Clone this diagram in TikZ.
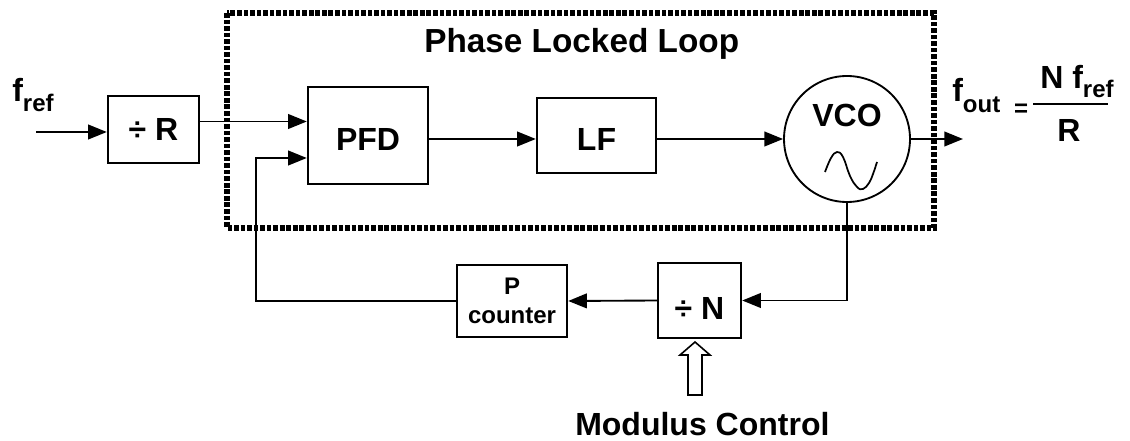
\documentclass[tikz,border=0pt]{standalone}
\usepackage{fontspec}
\setmainfont{Liberation Sans}
\usetikzlibrary{arrows.meta,calc}
\newcommand\bigf{\fontsize{24}{28}\selectfont\bfseries}
\newcommand\midf{\fontsize{18}{21.75}\selectfont\bfseries}
\newcommand\lowtxt[2]{\smash{\raisebox{#1}{#2}}}
\begin{document}
\begin{tikzpicture}[x=0.75pt,y=-0.75pt,
  box/.style={draw,line width=1.8pt,inner sep=0pt,font=\bigf},
  wire/.style={line width=1.4pt},
  arr/.style={wire,-{Triangle[length=14pt,width=11pt]}},
  dotbox/.style={line width=4pt,dash pattern=on 3.5pt off 1.4pt},
  lbl/.style={inner sep=0pt}]
\useasboundingbox (0,0) rectangle (1130,441);
% PLL frame
\draw[dotbox] (227,13) rectangle (934,228);
\node[lbl,anchor=base west,font=\fontsize{25}{30}\selectfont\bfseries] (title) at (424,53) {Phase Locked Loop};
% blocks
\node[box,minimum width=91*0.75pt,minimum height=67*0.75pt] (R) at (153.5,129.5) {\lowtxt{-7.9pt}{÷ R}};
\node[box,minimum width=120*0.75pt,minimum height=97*0.75pt] (PFD) at (368,135.5) {\lowtxt{-10.9pt}{PFD}};
\node[box,minimum width=119*0.75pt,minimum height=75*0.75pt] (LF) at (596.5,135.5) {\lowtxt{-10.9pt}{LF}};
\node[draw,circle,line width=1.4pt,inner sep=0pt,minimum size=126*0.75pt,font=\bigf] (VCO) at (847,139) {\lowtxt{9pt}{VCO}};
\draw[line width=1.3pt] plot[smooth,tension=0.7] coordinates {(825,172) (831,158) (837,152) (843,157) (850,176) (857,187) (863,189) (869,183) (873,174) (877,162)};
\node[box,minimum width=83*0.75pt,minimum height=75*0.75pt] (N) at (699.5,300.5) {\lowtxt{-14.6pt}{÷ N}};
\node[box,font=\midf,align=center,minimum width=110*0.75pt,minimum height=72*0.75pt] (P) at (512,301) {P\\counter};
% connectors
\coordinate (fin) at (36,132);
\draw[arr] (fin) -- (fin -| R.west);
\coordinate (y122) at (0,121.5);
\draw[arr] (R.east |- y122) -- (PFD.west |- y122);
\coordinate (y139) at (0,139);
\draw[arr] (PFD.east |- y139) -- (LF.west |- y139);
\draw[arr] (LF.east |- y139) -- (VCO.west);
\coordinate (vout) at (963,139);
\draw[arr] (VCO.east) -- (vout);
\draw[arr] (VCO.south) -- (VCO.south |- N.east) -- (N.east);
\draw[arr] (N.west) -- (P.east);
\coordinate (fbL) at (256,158);
\draw[arr] (P.west) -- (P.west -| fbL) -- (fbL) -- (PFD.west |- fbL);
% modulus control input
\draw[line width=1.2pt,fill=white] (688,395) -- (702,395) -- (702,355) -- (710,355) -- (695,342) -- (680,355) -- (688,355) -- cycle;
\node[lbl,anchor=base west,font=\bigf] (mod) at (575,435) {Modulus Control};
% labels
\node[lbl,anchor=base west,font=\bigf] (fref) at (12,102) {f\raisebox{-7.5pt}{\midf ref}};
\node[lbl,anchor=base west,font=\bigf] (fout) at (952,102) {f\raisebox{-8.25pt}{\midf out}};
\node[lbl,font=\midf] (eq) at (1021,110) {=};
\node[lbl,anchor=base west,font=\bigf] (num) at (1040,89) {N f\raisebox{-6.75pt}{\midf ref}};
\node[lbl,anchor=base,font=\bigf] (den) at (1069,142) {R};
\draw[line width=1.5pt] (1033,104) -- (1108,104);
\end{tikzpicture}
\end{document}
